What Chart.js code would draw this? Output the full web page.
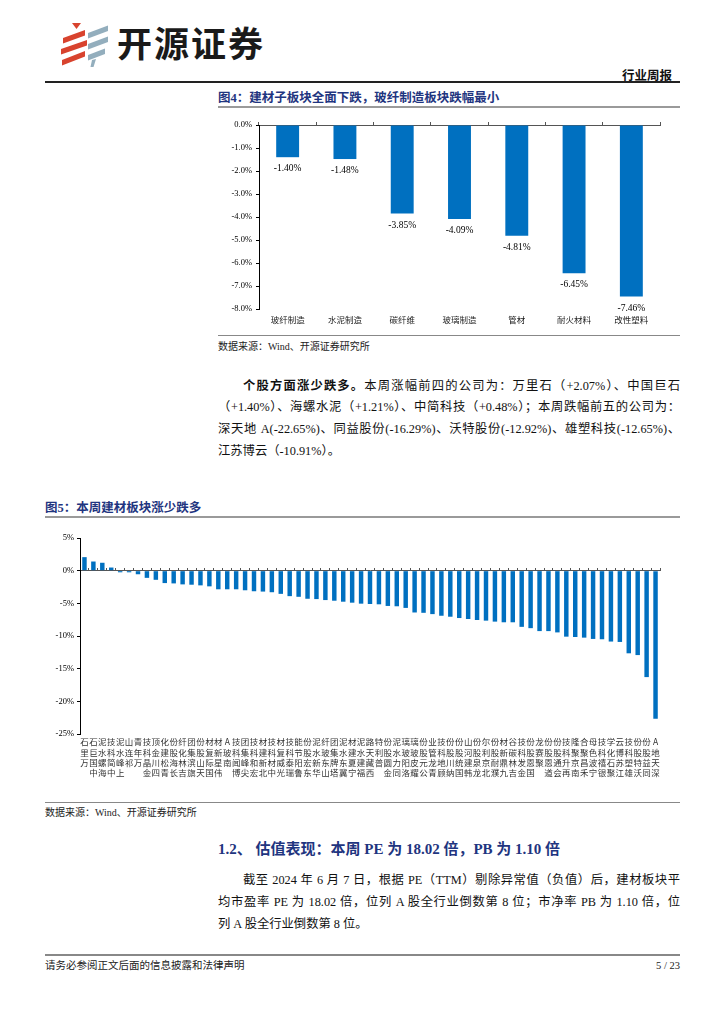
<!DOCTYPE html>
<html><head><meta charset="utf-8">
<script src="https://cdn.jsdelivr.net/npm/chart.js@4.4.1/dist/chart.umd.min.js"></script>
<style>
body{margin:0;width:724px;height:1024px;background:#fff;position:relative;overflow:hidden;font-family:"Liberation Serif","Noto Sans CJK SC",serif;color:#111}
.a{position:absolute;white-space:nowrap}
.hl{position:absolute}
.ln{position:absolute;white-space:nowrap;font-size:12.3px;line-height:16px;text-align:justify;text-align-last:justify}
.cap{font-family:"Liberation Serif","Noto Sans CJK SC",serif;font-weight:bold;color:#1f3580;font-size:12.5px;line-height:16px}
.src{font-size:10px;line-height:14px;color:#222}
b{font-family:"Noto Sans CJK SC",sans-serif;font-weight:bold}
</style></head><body>

<svg class="a" style="left:0;top:0" width="120" height="80">
  <polygon points="72,23 81,23 76.5,29" fill="#d8432e"/>
  <polygon points="63,38 85,30 85,35.5 63,43.5" fill="#d8432e"/>
  <polygon points="61,49 87,40 87,45.5 61,54.5" fill="#d8432e"/>
  <polygon points="62,60 85,51 85,56.5 62,65.5" fill="#d8432e"/>
  <polygon points="88,33 108,25.5 108,31 88,38.5" fill="#93aebd"/>
  <polygon points="88,44 108,36.5 108,42 88,49.5" fill="#93aebd"/>
  <polygon points="88,55 105,48.5 105,54 88,60.5" fill="#93aebd"/>
  <polygon points="92,60 96,59 93.5,67 90.5,67" fill="#93aebd"/>
</svg>
<div class="a" style="left:117px;top:22px;font-family:'Noto Sans CJK SC',sans-serif;font-weight:bold;font-size:35px;line-height:40px;letter-spacing:2px;color:#1a1a1a">开源证券</div>
<div class="a" style="right:52px;top:67px;font-family:'Noto Sans CJK SC',sans-serif;font-weight:bold;font-size:12.5px;line-height:16px">行业周报</div>
<div class="hl" style="left:45px;top:81px;width:635px;height:1.6px;background:#222"></div>

<div class="a cap" style="left:218px;top:90px">图4：建材子板块全面下跌，玻纤制造板块跌幅最小</div>
<div class="hl" style="left:218px;top:106px;width:462px;height:2px;background:#9a9a9a"></div>
<canvas id="c4" class="a" style="left:218px;top:110px" width="462" height="224"></canvas>
<div class="hl" style="left:218px;top:335px;width:462px;height:1px;background:#888"></div>
<div class="a src" style="left:218px;top:340px">数据来源：Wind、开源证券研究所</div>

<div class="ln" style="left:243px;top:377px;width:437px"><b>个股方面涨少跌多。</b>本周涨幅前四的公司为：万里石（+2.07%）、中国巨石</div>
<div class="ln" style="left:218px;top:399px;width:462px">（+1.40%）、海螺水泥（+1.21%）、中简科技（+0.48%）；本周跌幅前五的公司为：</div>
<div class="ln" style="left:218px;top:421px;width:462px">深天地 A(-22.65%)、同益股份(-16.29%)、沃特股份(-12.92%)、雄塑科技(-12.65%)、</div>
<div class="a" style="left:218px;top:443px;font-size:12.3px;line-height:16px">江苏博云（-10.91%）。</div>

<div class="a cap" style="left:45px;top:500px">图5：本周建材板块涨少跌多</div>
<div class="hl" style="left:45px;top:516px;width:635px;height:2px;background:#9a9a9a"></div>
<canvas id="c5" class="a" style="left:40px;top:525px" width="640" height="275"></canvas>
<div class="hl" style="left:45px;top:802px;width:635px;height:1px;background:#888"></div>
<div class="a src" style="left:45px;top:806px">数据来源：Wind、开源证券研究所</div>

<div class="a" style="left:218px;top:840px;font-size:15px;line-height:18px;font-weight:bold;color:#1f3580">1.2、 估值表现：本周 PE 为 18.02 倍，PB 为 1.10 倍</div>
<div class="ln" style="left:243px;top:872px;width:437px">截至 2024 年 6 月 7 日，根据 PE（TTM）剔除异常值（负值）后，建材板块平</div>
<div class="ln" style="left:218px;top:894px;width:462px">均市盈率 PE 为 18.02 倍，位列 A 股全行业倒数第 8 位；市净率 PB 为 1.10 倍，位</div>
<div class="a" style="left:218px;top:916px;font-size:12.3px;line-height:16px">列 A 股全行业倒数第 8 位。</div>

<div class="hl" style="left:45px;top:954px;width:635px;height:2px;background:#888"></div>
<div class="a src" style="left:45px;top:959px;font-size:10.5px">请务必参阅正文后面的信息披露和法律声明</div>
<div class="a src" style="right:44px;top:959px;font-size:10.5px">5 / 23</div>

<script>
// Figure 4 data
const subCats = ['玻纤制造','水泥制造','碳纤维','玻璃制造','管材','耐火材料','改性塑料'];
const subVals = [-1.40,-1.48,-3.85,-4.09,-4.81,-6.45,-7.46];
// Figure 5 data
const stockNames = ['万里石','中国巨石','海螺水泥','中简科技','上峰水泥','祁连山','万年青','金晶科技','四川金顶','青松建化',
 '长海股份','吉林化纤','旗滨集团','天山股份','国际复材','伟星新材','南玻A','博闻科技','尖峰集团','宏和科技',
 '北新建材','中材科技','光威复材','瑞泰科技','鲁阳节能','东宏股份','华新水泥','山东玻纤','塔牌集团','冀东水泥',
 '宁夏建材','福建水泥','西藏天路','普利特','金圆股份','同力水泥','洛阳玻璃','耀皮玻璃','公元股份','青龙管业',
 '顾地科技','纳川股份','国统股份','韩建河山','龙泉股份','北京利尔','濮耐股份','九鼎新材','吉林碳谷','金发科技',
 '国恩股份','聚赛龙','道恩股份','会通股份','再升科技','南京聚隆','禾昌聚合','宁波色母','银禧科技','聚石化学',
 '江苏博云','雄塑科技','沃特股份','同益股份','深天地A'];
const stockVals = [2.07,1.40,1.21,0.48,-0.25,-0.25,-0.55,-1.10,-1.40,-1.90,
 -1.95,-2.10,-2.15,-2.25,-2.40,-2.85,-2.85,-2.85,-3.00,-3.15,
 -3.20,-3.30,-3.55,-3.90,-4.00,-4.30,-4.35,-4.50,-4.60,-4.75,
 -4.90,-5.05,-5.10,-5.15,-5.40,-5.45,-5.70,-6.40,-6.45,-6.65,
 -6.90,-7.05,-7.25,-7.40,-7.55,-7.65,-7.80,-7.90,-7.90,-8.60,
 -8.80,-9.25,-9.25,-9.45,-10.10,-10.15,-10.25,-10.45,-10.50,-10.85,
 -10.91,-12.65,-12.92,-16.29,-22.65];
const subTicks = {min:-8, max:0, step:1};
const stockTicks = {min:-25, max:5, step:5};

const BLUE = '#0070C0';
const serif = 'Liberation Serif';
const cjk = 'Noto Sans CJK SC';

const valueLabels = {
  id:'valueLabels',
  afterDatasetsDraw(chart){
    const ctx = chart.ctx;
    const meta = chart.getDatasetMeta(0);
    ctx.save();
    ctx.font = '9.5px "'+serif+'"';
    ctx.fillStyle = '#000';
    ctx.textAlign = 'center';
    ctx.textBaseline = 'middle';
    meta.data.forEach((el,i)=>{
      ctx.fillText(chart.data.datasets[0].data[i].toFixed(2)+'%', el.x, el.y+11.5);
    });
    ctx.restore();
  }
};

new Chart(document.getElementById('c4'), {
  type:'bar',
  data:{labels:subCats, datasets:[{data:subVals, backgroundColor:BLUE, barPercentage:0.4, categoryPercentage:1}]},
  options:{
    responsive:false, animation:false, devicePixelRatio:1,
    layout:{padding:{top:15, right:20, left:0, bottom:0}},
    plugins:{legend:{display:false}, tooltip:{enabled:false}},
    scales:{
      x:{grid:{display:false, drawTicks:false}, border:{display:false},
         ticks:{padding:6, color:'#222', font:{family:cjk, size:8.5}},
         afterFit(s){ s.height = 25; }},
      x2:{type:'category', position:{y:0}, offset:true,
          grid:{offset:true, drawOnChartArea:false, tickLength:-4, color:'#555'},
          border:{display:true, color:'#555', width:1},
          ticks:{display:false}},
      y:{min:subTicks.min, max:subTicks.max,
         ticks:{stepSize:subTicks.step, padding:4, color:'#000', font:{family:serif, size:8.5},
                callback:v=>v.toFixed(1)+'%'},
         grid:{drawOnChartArea:false, tickLength:3, color:'#000'},
         border:{display:true, color:'#000', width:1},
         afterFit(s){ s.width = 41; }}
    }
  },
  plugins:[valueLabels]
});

new Chart(document.getElementById('c5'), {
  type:'bar',
  data:{labels:stockNames, datasets:[{data:stockVals, backgroundColor:BLUE, barPercentage:0.5, categoryPercentage:1}]},
  options:{
    responsive:false, animation:false, devicePixelRatio:1,
    layout:{padding:{top:13, right:20, left:0, bottom:0}},
    plugins:{legend:{display:false}, tooltip:{enabled:false}},
    scales:{
      x:{grid:{display:false, drawTicks:false}, border:{display:false},
         ticks:{autoSkip:false, maxRotation:0, minRotation:0, padding:3, color:'#333',
                font:{family:cjk, size:8.5, lineHeight:1.2},
                callback(v){ return Array.from(this.getLabelForValue(v)).reverse(); }},
         afterFit(s){ s.height = 66; }},
      x2:{type:'category', position:{y:0}, offset:true,
          grid:{offset:true, drawOnChartArea:false, tickLength:-3, color:'#555'},
          border:{display:true, color:'#555', width:1},
          ticks:{display:false}},
      y:{min:stockTicks.min, max:stockTicks.max,
         ticks:{stepSize:stockTicks.step, padding:3, color:'#000', font:{family:serif, size:8.5},
                callback:v=>v+'%'},
         grid:{drawOnChartArea:false, tickLength:3, color:'#000'},
         border:{display:true, color:'#000', width:1},
         afterFit(s){ s.width = 40; }}
    }
  }
});
</script>
</body></html>
